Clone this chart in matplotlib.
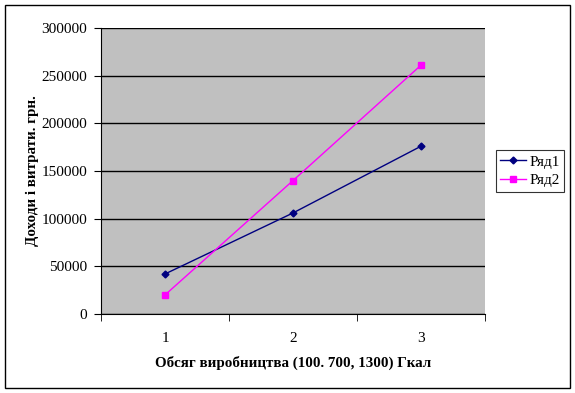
import numpy as np
import matplotlib.pyplot as plt
from matplotlib.patches import Rectangle

categories = ["1", "2", "3"]
row1 = [42000, 106000, 176000]
row2 = [20000, 140000, 261000]
yticks = [0, 50000, 100000, 150000, 200000, 250000, 300000]

plt.rcParams['font.family'] = ['Liberation Serif', 'DejaVu Serif']

fig = plt.figure(figsize=(5.75, 3.93), dpi=100)
ax = fig.add_axes([0.1757, 0.201, 0.6678, 0.7278])
ax.set_facecolor('#c0c0c0')

x = np.arange(1, len(categories) + 1)
ax.plot(x, row1, color='#000080', lw=1, marker='D', ms=3.5, label='Ряд1')
ax.plot(x, row2, color='#ff00ff', lw=1, marker='s', ms=4, label='Ряд2')

ax.set_xlim(0.5, len(categories) + 0.5)
ax.set_ylim(0, 300000)
ax.set_yticks(yticks)
ax.set_yticklabels([str(v) for v in yticks], fontsize=11)
ax.yaxis.grid(True, color='black', lw=1)
ax.set_axisbelow(True)

ax.set_xticks(x)
ax.set_xticklabels(categories, fontsize=11)
ax.tick_params(axis='x', length=0, pad=13)
ax.set_xticks(np.arange(0.5, len(categories) + 1), minor=True)
ax.tick_params(axis='x', which='minor', length=5, direction='out', color='black')
ax.tick_params(axis='y', length=5, direction='out', pad=5)

for s in ['top', 'right']:
    ax.spines[s].set_visible(False)
ax.spines['left'].set_color('black')
ax.spines['bottom'].set_color('black')

ax.set_xlabel('Обсяг виробництва (100. 700, 1300) Гкал', fontsize=10.8,
              fontweight='bold', labelpad=8)
ax.set_ylabel('Доходи і витрати. грн.', fontsize=10.8, fontweight='bold',
              labelpad=2)

leg = ax.legend(loc='center left', bbox_to_anchor=(1.028, 0.5), fontsize=11,
                frameon=True, fancybox=False, edgecolor='black',
                borderpad=0.3, handlelength=1.7, handletextpad=0.2,
                labelspacing=0.3, borderaxespad=0)
leg.get_frame().set_linewidth(0.8)

fig.patches.append(Rectangle((5 / 575, 5 / 393), 565 / 575, 383 / 393,
                             transform=fig.transFigure, fill=False,
                             edgecolor='black', lw=1))

fig.savefig('out.png', dpi=100)
